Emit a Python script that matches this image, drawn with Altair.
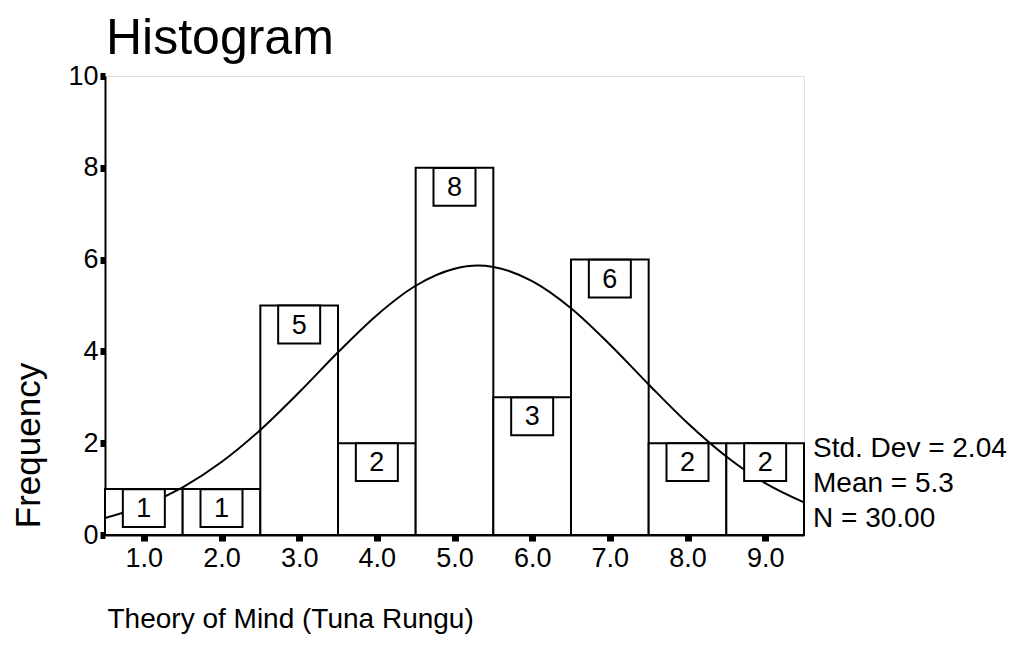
import altair as alt
import pandas as pd

# Histogram bins (centres) and frequencies
bin_centers = [1.0, 2.0, 3.0, 4.0, 5.0, 6.0, 7.0, 8.0, 9.0]
frequencies = [1, 1, 5, 2, 8, 3, 6, 2, 2]

# Fitted normal curve
curve_x = [0.5, 1.0, 1.5, 2.0, 2.5, 3.0, 3.5, 4.0, 4.5, 5.0, 5.3, 5.5, 6.0,
           6.5, 7.0, 7.5, 8.0, 8.5, 9.0, 9.5]
curve_y = [0.37, 0.64, 1.04, 1.59, 2.29, 3.11, 3.98, 4.79, 5.43, 5.80, 5.87,
           5.84, 5.53, 4.94, 4.15, 3.28, 2.44, 1.71, 1.13, 0.71]

chart_title = "Histogram"
stats_lines = ["Std. Dev = 2.04", "Mean = 5.3", "N = 30.00"]
tick_values = [1, 2, 3, 4, 5, 6, 7, 8, 9]
y_ticks = [0, 2, 4, 6, 8, 10]

FONT = "Liberation Sans"

bars = pd.DataFrame({
    "center": bin_centers,
    "start": [c - 0.5 for c in bin_centers],
    "end": [c + 0.5 for c in bin_centers],
    "count": frequencies,
})
curve = pd.DataFrame({"x": curve_x, "y": curve_y})

xscale = alt.Scale(domain=[0.5, 9.5], nice=False, zero=False)
yscale = alt.Scale(domain=[0, 10], nice=False)

xaxis = alt.Axis(
    values=tick_values, format=".1f", title="Theory of Mind (Tuna Rungu)",
    grid=False, domainColor="black", domainWidth=2,
    tickColor="black", tickSize=6, tickWidth=7,
    labelFont=FONT, labelFontSize=27, labelColor="black", labelPadding=4,
    titleFont=FONT, titleFontSize=28, titleFontWeight="normal", titleColor="black",
    titleAnchor="start", titleAlign="left", titleX=2, titleY=92,
    titleBaseline="alphabetic",
)
yaxis = alt.Axis(
    values=y_ticks, title="Frequency",
    grid=False, domainColor="black", domainWidth=2,
    tickColor="black", tickSize=5, tickWidth=7,
    labelFont=FONT, labelFontSize=27, labelColor="black", labelPadding=2,
    titleFont=FONT, titleFontSize=35, titleFontWeight="normal", titleColor="black",
    titleX=-66, titleY=369, titleAlign="center", titleBaseline="alphabetic",
    titleAngle=270,
)

base = alt.Chart(bars)

hist = base.mark_rect(fill="white", stroke="black", strokeWidth=2).encode(
    x=alt.X("start:Q", scale=xscale, axis=xaxis),
    x2="end:Q",
    y=alt.Y("count:Q", scale=yscale, axis=yaxis),
    y2=alt.datum(0),
)

line = alt.Chart(curve).mark_line(color="black", strokeWidth=2, interpolate="monotone").encode(
    x=alt.X("x:Q", scale=xscale),
    y=alt.Y("y:Q", scale=yscale),
)

boxes = base.mark_point(
    shape="M-1,-0.9L1,-0.9L1,0.9L-1,0.9Z", size=1764, filled=True,
    fill="white", stroke="black", strokeWidth=2, opacity=1, yOffset=19,
).encode(
    x=alt.X("center:Q", scale=xscale),
    y=alt.Y("count:Q", scale=yscale),
)

labels = base.mark_text(
    font=FONT, fontSize=27, color="black", baseline="middle", align="center", yOffset=20,
).encode(
    x=alt.X("center:Q", scale=xscale),
    y=alt.Y("count:Q", scale=yscale),
    text="count:Q",
)

one_row = alt.Chart(bars).transform_filter("datum.center == 1")

stat_layers = []
for i, s in enumerate(stats_lines):
    stat_layers.append(
        one_row.mark_text(
            text=s, font=FONT, fontSize=28, color="black", align="left",
            baseline="alphabetic",
        ).encode(x=alt.value(708), y=alt.value(381 + 35 * i))
    )

title_mark = one_row.mark_text(
    text=chart_title, font=FONT, fontSize=50, color="black", align="left",
    baseline="alphabetic",
).encode(x=alt.value(1), y=alt.value(-22))

chart = alt.layer(hist, line, boxes, labels, title_mark, *stat_layers).properties(
    width=699, height=459,
    autosize=alt.AutoSizeParams(type="none"),
    padding={"left": 97, "top": 68, "right": 218, "bottom": 107},
).configure_view(stroke="black", strokeWidth=2).configure(background="white")

chart.save("out.html", embed_options={"renderer": "svg", "actions": False})
